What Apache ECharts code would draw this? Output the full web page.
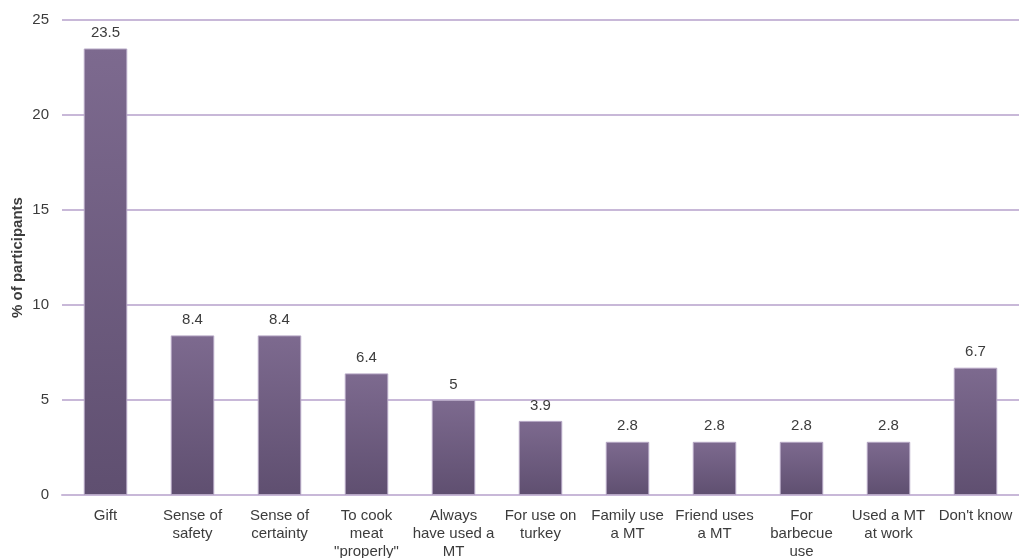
<!DOCTYPE html>
<html>
<head>
<meta charset="utf-8">
<script src="https://cdn.jsdelivr.net/npm/echarts@6/dist/echarts.min.js"></script>
<style>
  html, body { margin: 0; padding: 0; background: #fff; }
  #chart { width: 1019px; height: 558px; }
</style>
</head>
<body>
<div id="chart"></div>
<script>
// Reasons given for owning a meat thermometer (MT)
const categories = [
  'Gift',
  'Sense of\nsafety',
  'Sense of\ncertainty',
  'To cook\nmeat\n"properly"',
  'Always\nhave used a\nMT',
  'For use on\nturkey',
  'Family use\na MT',
  'Friend uses\na MT',
  'For\nbarbecue\nuse',
  'Used a MT\nat work',
  "Don't know"
];
const percentages = [23.5, 8.4, 8.4, 6.4, 5, 3.9, 2.8, 2.8, 2.8, 2.8, 6.7];
const yTicks = [0, 5, 10, 15, 20, 25];

const chart = echarts.init(document.getElementById('chart'));
const fontFamily = 'Liberation Sans, Arial, sans-serif';
const textColor = '#3c3c3c';

chart.setOption({
  animation: false,
  grid: { left: 62, right: 0, top: 20, bottom: 63, outerBoundsMode: 'none', containLabel: false },
  xAxis: {
    type: 'category',
    data: categories,
    axisTick: { show: false },
    axisLine: { lineStyle: { color: '#c8b8d8', width: 2 } },
    axisLabel: {
      interval: 0,
      color: textColor,
      fontSize: 15,
      lineHeight: 18,
      margin: 12,
      fontFamily: fontFamily
    }
  },
  yAxis: {
    type: 'value',
    min: yTicks[0],
    max: yTicks[yTicks.length - 1],
    interval: 5,
    name: '% of participants',
    nameLocation: 'middle',
    nameGap: 37,
    nameMoveOverlap: false,
    nameTextStyle: { color: textColor, fontSize: 15, fontWeight: 'bold', fontFamily: fontFamily },
    axisLine: { show: false },
    axisTick: { show: false },
    axisLabel: { color: textColor, fontSize: 15, margin: 13, fontFamily: fontFamily },
    splitLine: { lineStyle: { color: '#c8b8d8', width: 2 } }
  },
  series: [{
    type: 'bar',
    data: percentages,
    barWidth: '50%',
    itemStyle: {
      color: new echarts.graphic.LinearGradient(0, 0, 0, 1, [
        { offset: 0, color: '#7d6a8f' },
        { offset: 1, color: '#5f4f70' }
      ]),
      borderColor: '#b5a6c4',
      borderWidth: 1
    },
    label: {
      show: true,
      position: 'top',
      distance: 8,
      color: textColor,
      fontSize: 15,
      fontFamily: fontFamily
    }
  }]
});
</script>
</body>
</html>
